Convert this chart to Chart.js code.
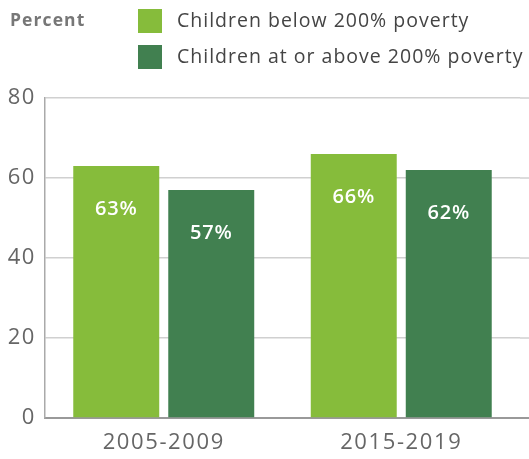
<!DOCTYPE html>
<html>
<head>
<meta charset="utf-8">
<script src="https://cdn.jsdelivr.net/npm/chart.js@4"></script>
<style>
  html, body { margin: 0; padding: 0; background: #fff; }
  #wrap { width: 529px; height: 459px; }
</style>
</head>
<body>
<div id="wrap"><canvas id="chart"></canvas></div>
<script>
var periods = ["2005-2009", "2015-2019"];
var belowPoverty = [63, 66];
var abovePoverty = [57, 62];
var seriesNames = ["Children below 200% poverty", "Children at or above 200% poverty"];
var yTicks = [0, 20, 40, 60, 80];

var FONT = "'Open Sans', 'Noto Sans', sans-serif";

// wider tracking for the axis labels
var tracking = {
    id: 'tracking',
    beforeDraw: function(chart) {
        chart.ctx.letterSpacing = '1.6px';
    }
};

// legend block with the "Percent" caption, drawn in the top strip
var legendPlugin = {
    id: 'topLegend',
    afterDraw: function(chart) {
        var ctx = chart.ctx;
        ctx.save();
        ctx.textBaseline = 'middle';
        ctx.fillStyle = '#777';
        ctx.letterSpacing = '1.1px';
        ctx.font = "bold 17.5px " + FONT;
        ctx.fillText("Percent", 10, 21);
        ctx.letterSpacing = '1px';
        chart.data.datasets.forEach(function(ds, i) {
            var y = 9 + i * 36;
            ctx.fillStyle = ds.backgroundColor;
            ctx.fillRect(138, y, 24, 24);
            ctx.fillStyle = '#444';
            ctx.font = "19.5px " + FONT;
            ctx.fillText(ds.label, 177, y + 12);
        });
        ctx.restore();
    }
};

// carry the horizontal grid lines out to the right edge of the canvas
var gridExtend = {
    id: 'gridExtend',
    beforeDatasetsDraw: function(chart) {
        var ctx = chart.ctx, y = chart.scales.y, area = chart.chartArea;
        ctx.save();
        yTicks.forEach(function(v) {
            var py = y.getPixelForValue(v);
            ctx.strokeStyle = v === 0 ? '#999' : '#d0d0d0';
            ctx.lineWidth = v === 0 ? 2 : 1.5;
            ctx.beginPath();
            ctx.moveTo(area.right, py);
            ctx.lineTo(chart.width, py);
            ctx.stroke();
        });
        ctx.restore();
    }
};

// value labels inside the bars
var valueLabels = {
    id: 'valueLabels',
    afterDatasetsDraw: function(chart) {
        var ctx = chart.ctx;
        ctx.save();
        ctx.fillStyle = '#fff';
        ctx.letterSpacing = '0.8px';
        ctx.font = "600 20px " + FONT;
        ctx.textAlign = 'center';
        ctx.textBaseline = 'middle';
        chart.data.datasets.forEach(function(ds, i) {
            chart.getDatasetMeta(i).data.forEach(function(bar, j) {
                ctx.fillText(ds.data[j] + "%", bar.x, bar.y + 43);
            });
        });
        ctx.restore();
    }
};

var ctx = document.getElementById('chart').getContext('2d');
var chart = new Chart(ctx, {
    type: 'bar',
    data: {
        labels: periods,
        datasets: [{
            label: seriesNames[0],
            backgroundColor: '#86bc3b',
            data: belowPoverty,
        }, {
            label: seriesNames[1],
            backgroundColor: '#418050',
            data: abovePoverty,
        }]
    },
    options: {
        responsive: true,
        maintainAspectRatio: false,
        animation: false,
        layout: { padding: { top: 98, right: 9, left: 0, bottom: 0 } },
        categoryPercentage: 0.8,
        barPercentage: 0.905,
        plugins: {
            legend: { display: false },
            tooltip: { enabled: false }
        },
        scales: {
            x: {
                grid: { display: false },
                border: { color: '#999', width: 2 },
                ticks: { color: '#666', font: { family: FONT, size: 22 }, padding: 4 },
                afterFit: function(scale) { scale.height = 41; }
            },
            y: {
                min: 0,
                max: 80,
                afterBuildTicks: function(scale) {
                    scale.ticks = yTicks.map(function(v) { return { value: v }; });
                },
                grid: { color: '#d0d0d0', lineWidth: 1.5, drawTicks: false },
                border: { color: '#aaa', width: 1.5 },
                ticks: { color: '#666', font: { family: FONT, size: 22 }, padding: 9 },
                afterFit: function(scale) { scale.width = 45; }
            }
        }
    },
    plugins: [tracking, legendPlugin, gridExtend, valueLabels]
});
</script>
</body>
</html>
